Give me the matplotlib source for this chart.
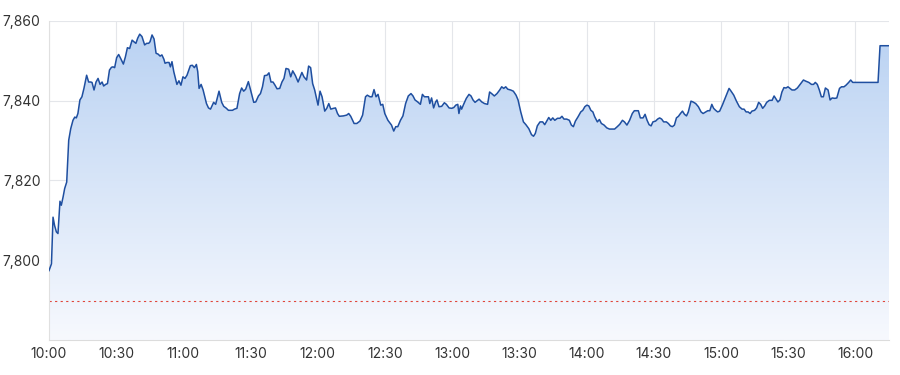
import matplotlib
matplotlib.use('Agg')
import matplotlib.pyplot as plt
from matplotlib.colors import LinearSegmentedColormap
from matplotlib.ticker import FuncFormatter, FixedLocator
import numpy as np

plt.rcParams['font.family'] = ['Inter', 'DejaVu Sans']

# minutes after 10:00 and index level
minutes = [
    0, 1.1, 1.8, 2.5, 3.3, 4.0, 4.9, 5.5, 6.3, 7.0, 7.9, 8.8, 9.7, 10.7, 11.5, 12.2, 12.9, 13.8, 14.7, 15.6,
    16.8, 17.7, 18.6, 19.2, 20.1, 21.0, 21.9, 22.8, 23.7, 24.4, 25.3, 26.1, 27.0, 27.9, 28.6, 29.3, 30.2, 31.1,
    32.0, 33.2, 34.1, 35.0, 36.0, 37.1, 37.9, 38.8, 39.6, 40.5, 41.5, 42.7, 43.6, 44.5, 45.1, 46.0, 46.9, 47.8,
    48.7, 49.6, 50.4, 51.3, 51.8, 52.7, 53.6, 54.2, 54.9, 55.7, 57.1, 58.0, 58.9, 59.8, 60.7, 61.6, 63.1, 64.0,
    64.9, 65.8, 66.4, 67.0, 67.9, 68.8, 70.3, 71.2, 72.1, 72.9, 73.5, 74.4, 75.9, 77.1, 78.0, 79.2, 80.1, 81.9,
    82.8, 83.9, 85.1, 86.0, 86.9, 87.8, 89.0, 89.9, 91.4, 92.3, 93.5, 94.4, 95.3, 96.2, 97.3, 98.2, 99.1, 100.0,
    100.9, 101.8, 103.0, 104.0, 104.9, 105.8, 107.0, 107.9, 108.8, 110.0, 111.2, 112.1, 112.9, 113.8, 115.0,
    115.9, 116.8, 117.7, 118.6, 120.1, 121.0, 121.9, 123.1, 124.0, 124.9, 125.8, 127.0, 127.9, 128.8, 129.6,
    131.4, 132.9, 133.8, 134.7, 136.2, 137.4, 138.8, 140.0, 141.3, 142.1, 143.3, 144.2, 145.1, 146.0, 146.9,
    148.1, 149.0, 149.9, 151.3, 152.9, 153.9, 154.8, 155.7, 156.9, 158.0, 159.2, 160.4, 161.6, 162.5, 163.4,
    164.6, 165.8, 166.7, 167.6, 168.5, 169.4, 170.0, 170.8, 171.7, 172.6, 173.2, 174.1, 175.3, 176.5, 177.4,
    178.6, 179.8, 180.7, 181.6, 182.5, 183.0, 183.7, 184.2, 185.1, 186.3, 187.5, 188.4, 189.3, 190.2, 191.1,
    192.0, 193.2, 194.4, 195.8, 196.7, 197.6, 198.8, 200.0, 201.2, 202.1, 203.0, 203.9, 204.8, 206.1, 207.3,
    208.5, 209.4, 210.6, 211.8, 212.9, 214.2, 215.4, 216.3, 217.1, 218.0, 219.2, 220.4, 221.3, 222.2, 223.1,
    224.0, 224.9, 225.8, 227.0, 228.1, 229.0, 229.9, 231.1, 232.3, 233.2, 234.1, 235.0, 236.2, 237.4, 238.3,
    239.2, 240.1, 241.0, 241.9, 242.8, 243.6, 244.8, 245.7, 246.6, 247.8, 249.0, 250.2, 251.3, 252.5, 253.7,
    254.8, 256.0, 256.9, 258.0, 259.2, 260.4, 261.3, 263.1, 264.0, 265.2, 266.1, 267.0, 267.9, 268.8, 269.6,
    270.8, 271.7, 272.6, 273.5, 274.4, 275.6, 276.5, 277.4, 278.3, 279.2, 280.1, 281.0, 281.9, 282.8, 283.7,
    284.6, 285.4, 286.6, 287.5, 288.7, 289.9, 291.1, 292.0, 292.9, 294.1, 295.0, 295.9, 296.7, 297.6, 298.5,
    299.4, 300.6, 301.8, 302.7, 303.6, 304.5, 305.7, 306.9, 308.2, 309.4, 310.3, 311.2, 312.1, 313.0, 313.8,
    315.0, 315.9, 316.8, 317.7, 318.6, 319.5, 320.4, 321.6, 322.8, 323.7, 324.6, 325.4, 326.3, 327.2, 328.1,
    329.0, 329.9, 330.8, 331.7, 332.9, 334.1, 335.3, 336.8, 337.9, 339.2, 340.4, 341.3, 342.1, 343.0, 343.9,
    344.8, 345.7, 346.6, 347.8, 348.7, 349.6, 350.8, 351.7, 352.9, 353.8, 354.9, 355.8, 357.0, 357.9, 358.8,
    370.1, 371.0, 375.0,
]
prices = [
    7797.4, 7799.1, 7810.8, 7808.7, 7807.1, 7806.7, 7814.8, 7813.8, 7815.9, 7818.0, 7819.6, 7830.1, 7833.0,
    7835.1, 7835.9, 7835.7, 7836.8, 7840.2, 7841.0, 7843.1, 7846.4, 7844.7, 7844.7, 7844.6, 7842.7, 7844.7,
    7845.6, 7844.1, 7844.7, 7843.7, 7844.1, 7844.3, 7847.7, 7848.4, 7848.5, 7848.3, 7850.8, 7851.6, 7850.6,
    7849.2, 7851.0, 7853.3, 7853.1, 7855.2, 7854.8, 7854.4, 7855.7, 7856.7, 7856.1, 7854.0, 7854.4, 7854.4,
    7854.8, 7856.5, 7855.5, 7851.9, 7851.7, 7851.2, 7851.5, 7850.4, 7849.4, 7849.6, 7849.6, 7848.5, 7849.8,
    7847.3, 7844.1, 7845.0, 7843.9, 7846.0, 7845.6, 7846.4, 7848.8, 7848.9, 7848.3, 7849.1, 7847.3, 7843.1,
    7844.1, 7842.7, 7839.3, 7838.2, 7837.9, 7838.9, 7839.6, 7839.1, 7842.4, 7839.6, 7838.6, 7838.1, 7837.6,
    7837.6, 7837.9, 7838.1, 7841.8, 7843.2, 7842.4, 7842.9, 7844.8, 7842.9, 7839.6, 7839.7, 7841.2, 7841.8,
    7843.5, 7846.3, 7846.4, 7847.0, 7844.7, 7844.7, 7843.9, 7843.0, 7843.1, 7844.7, 7845.6, 7848.1, 7847.9,
    7846.0, 7847.5, 7846.3, 7844.7, 7846.0, 7847.1, 7846.0, 7845.2, 7848.7, 7848.3, 7844.3, 7842.7, 7838.9,
    7842.4, 7841.0, 7837.4, 7838.1, 7839.3, 7837.9, 7838.1, 7838.2, 7836.8, 7836.1, 7836.2, 7836.4, 7836.8,
    7836.1, 7834.3, 7834.3, 7834.9, 7836.4, 7841.0, 7841.4, 7841.0, 7841.0, 7842.8, 7841.0, 7841.6, 7838.9,
    7839.1, 7836.8, 7835.1, 7833.9, 7832.4, 7833.5, 7833.5, 7835.1, 7836.2, 7839.3, 7841.2, 7841.8, 7841.2,
    7840.2, 7839.7, 7839.1, 7841.6, 7841.0, 7841.0, 7841.0, 7839.3, 7840.7, 7838.2, 7839.7, 7840.2, 7838.5,
    7838.6, 7839.5, 7839.1, 7838.2, 7838.1, 7838.3, 7838.9, 7839.1, 7836.8, 7838.7, 7837.9, 7839.1, 7840.6,
    7841.6, 7841.2, 7840.2, 7839.6, 7840.0, 7840.4, 7839.7, 7839.3, 7839.1, 7842.2, 7841.8, 7841.2, 7841.8,
    7842.7, 7843.5, 7843.1, 7843.5, 7842.9, 7842.7, 7842.4, 7841.4, 7840.2, 7837.2, 7834.7, 7834.0, 7833.0,
    7831.5, 7831.1, 7831.8, 7833.7, 7834.7, 7834.7, 7834.0, 7834.9, 7835.8, 7835.1, 7835.7, 7835.1, 7835.6,
    7835.6, 7836.1, 7835.4, 7835.4, 7835.1, 7833.9, 7833.5, 7834.9, 7836.0, 7837.2, 7837.6, 7838.5, 7838.9,
    7838.7, 7837.6, 7837.2, 7836.0, 7834.7, 7835.3, 7834.3, 7833.9, 7833.2, 7832.9, 7832.9, 7832.9, 7833.5,
    7834.1, 7835.1, 7834.7, 7833.9, 7835.1, 7836.8, 7837.5, 7837.5, 7835.7, 7835.7, 7836.6, 7835.1, 7834.0,
    7833.7, 7834.7, 7834.9, 7835.4, 7835.7, 7835.4, 7834.7, 7834.7, 7834.3, 7833.7, 7833.5, 7833.9, 7835.7,
    7836.1, 7836.8, 7837.4, 7836.6, 7836.2, 7837.2, 7839.9, 7839.7, 7839.3, 7838.5, 7837.2, 7836.8, 7837.1,
    7837.5, 7837.5, 7839.1, 7838.1, 7837.6, 7837.2, 7837.4, 7838.9, 7840.6, 7841.8, 7843.1, 7842.4, 7841.4,
    7839.9, 7838.5, 7837.9, 7837.9, 7837.2, 7837.2, 7836.8, 7837.4, 7837.6, 7838.2, 7839.6, 7839.1, 7838.1,
    7838.7, 7839.6, 7840.1, 7840.1, 7841.2, 7840.4, 7839.7, 7840.2, 7842.2, 7843.3, 7843.2, 7843.5, 7843.1,
    7842.7, 7842.7, 7843.2, 7844.1, 7845.2, 7844.9, 7844.6, 7844.1, 7844.1, 7844.6, 7844.1, 7842.7, 7841.0,
    7841.0, 7843.2, 7842.7, 7840.2, 7840.7, 7840.6, 7840.7, 7843.1, 7843.5, 7843.5, 7843.9, 7844.6, 7845.2,
    7844.6, 7844.6, 7853.8, 7853.8,
]
prev_close = 7789.7
tick_minutes = [0, 30, 60, 90, 120, 150, 180, 210, 240, 270, 300, 330, 360]
y_ticks = [7800, 7820, 7840, 7860]

x = np.array(minutes)
y = np.array(prices)
ymin, ymax = 7780, 7860
xmin, xmax = 0, 375

fig = plt.figure(figsize=(9, 3.75), dpi=100)
ax = fig.add_axes([49 / 900, 1 - 340 / 375, 840 / 900, 319 / 375])

# gradient fill under the line
fill = ax.fill_between(x, y, ymin, color='none', lw=0)
cmap = LinearSegmentedColormap.from_list('fade', ['#f7f9fe', '#b8d1f2'])
grad = np.linspace(0, 1, 256).reshape(-1, 1)
img = ax.imshow(grad, extent=[xmin, xmax, ymin, ymax], origin='lower',
                aspect='auto', cmap=cmap, zorder=1)
img.set_clip_path(fill.get_paths()[0], transform=ax.transData)

ax.plot(x, y, color='#1f4fa0', lw=1.1, zorder=3)
ax.axhline(prev_close, color='#e0453a', lw=0.8, dashes=(2, 3), zorder=2)

ax.set_xlim(xmin, xmax)
ax.set_ylim(ymin, ymax)
ax.xaxis.set_major_locator(FixedLocator(tick_minutes))
ax.yaxis.set_major_locator(FixedLocator(y_ticks))
ax.xaxis.set_major_formatter(FuncFormatter(lambda v, p: f'{10 + int(v) // 60}:{int(v) % 60:02d}'))
ax.yaxis.set_major_formatter(FuncFormatter(lambda v, p: f'{v:,.0f}'))
ax.grid(True, color='#e4e6ea', lw=0.8, zorder=0)
ax.set_axisbelow(True)
ax.tick_params(length=0, labelsize=10, colors='#333333')
ax.tick_params(axis='x', pad=5)
ax.tick_params(axis='y', pad=6)
for s in ['right', 'top']:
    ax.spines[s].set_visible(False)
ax.spines['left'].set_color('#e0e0e0')
ax.spines['bottom'].set_color('#dcdcdc')

fig.savefig('out.png', dpi=100)
